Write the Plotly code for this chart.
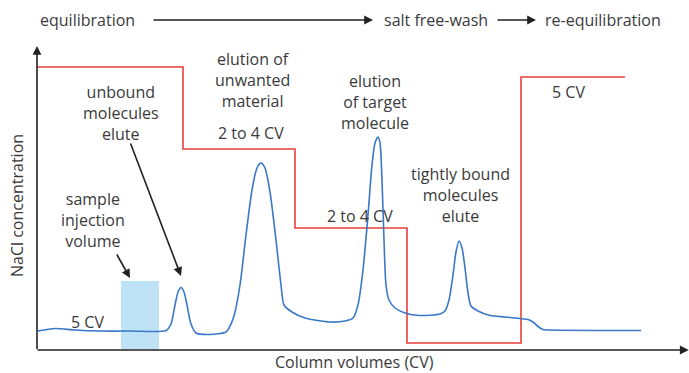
import plotly.graph_objects as go

# Units: x in arbitrary column-volume units, y in arbitrary NaCl units
# Chromatogram (UV trace) sampled along the run
trace_x = [0.1, 1.8, 3.8, 6.3, 9.3, 12.9, 13.4, 13.8, 14.1, 14.4, 14.7, 15.0, 15.4, 15.9,
           17.3, 18.9, 19.2, 19.7, 20.3, 20.9, 21.5, 22.0, 22.4, 22.8, 23.3, 23.9, 24.4,
           24.7, 25.5, 26.8, 29.3, 30.8, 31.6, 32.1, 32.6, 33.1, 33.5, 33.8, 34.1, 34.3,
           34.5, 34.7, 34.9, 35.2, 35.8, 36.8, 38.3, 40.3, 40.8, 41.2, 41.6, 41.9, 42.2,
           42.5, 42.8, 43.1, 43.4, 44.1, 45.3, 46.8, 48.3, 49.1, 49.6, 50.1, 50.6, 51.3, 60.4]
trace_y = [1.9, 2.15, 2.0, 1.9, 1.9, 1.95, 2.6, 4.5, 5.8, 6.25, 5.8, 4.5, 2.6, 1.7,
           1.55, 1.8, 2.2, 3.4, 6.5, 11.5, 16.0, 18.2, 18.7, 18.2, 15.8, 11.0, 6.5,
           4.5, 3.8, 3.2, 2.8, 2.9, 3.2, 4.5, 8.0, 13.5, 18.5, 20.7, 21.3, 20.7,
           17.0, 11.0, 6.5, 5.0, 4.2, 3.7, 3.45, 3.6, 3.9, 5.0, 7.5, 9.8, 10.9,
           10.2, 8.2, 5.7, 4.4, 3.9, 3.45, 3.3, 3.15, 3.05, 2.8, 2.35, 2.05, 2.0, 1.95]

# NaCl step gradient: start of each step and its level
step_x = [0.0, 14.6, 25.8, 37.0, 48.4, 58.8]
step_y = [28.3, 20.1, 12.2, 0.7, 27.3, 27.3]

# Sample injection window
inject_x = [8.4, 12.2]
inject_y = [0.1, 6.9]

TEXT = "#3a3a3a"
AXIS = "#222222"
FONT = dict(family="Open Sans", size=16, color=TEXT)

fig = go.Figure()

fig.add_shape(type="rect", xref="x", yref="y",
              x0=inject_x[0], x1=inject_x[1], y0=inject_y[0], y1=inject_y[1],
              fillcolor="#bfe3f6", line_width=0, layer="below")

fig.add_trace(go.Scatter(x=step_x, y=step_y, mode="lines",
                         line=dict(color="#e8403a", width=1.6, shape="hv"),
                         hoverinfo="skip", showlegend=False))
fig.add_trace(go.Scatter(x=trace_x, y=trace_y, mode="lines",
                         line=dict(color="#3a78c9", width=1.6, shape="spline", smoothing=0.7),
                         hoverinfo="skip", showlegend=False))


def arrow(x0, y0, x1, y1, width=1.6):
    fig.add_annotation(x=x1, y=y1, ax=x0, ay=y0, xref="x", yref="y", axref="x", ayref="y",
                       text="", showarrow=True, arrowhead=2, arrowsize=1.1,
                       arrowwidth=width, arrowcolor=AXIS)


def label(x, y, text, **kw):
    fig.add_annotation(x=x, y=y, xref="x", yref="y", text=text, showarrow=False,
                       font=FONT, align="center", **kw)


# Axes drawn as arrows
arrow(-0.1, 0.0, 65.17, 0.0)
arrow(0.0, -0.05, 0.0, 30.4)

# Phase sequence across the top
label(5.05, 33.0, "equilibration")
arrow(11.5, 33.0, 33.6, 33.0)
label(39.85, 33.0, "salt free-wash")
arrow(45.9, 33.0, 49.9, 33.0)
label(56.6, 33.0, "re-equilibration")

# Peak and step annotations
label(8.4, 23.75, "unbound<br>molecules<br>elute")
arrow(9.3, 20.8, 14.4, 7.4)
label(5.6, 13.05, "sample<br>injection<br>volume")
arrow(7.9, 9.7, 9.3, 7.2)
label(5.0, 2.83, "5 CV")
label(21.5, 27.0, "elution of<br>unwanted<br>material")
label(21.4, 21.7, "2 to 4 CV")
label(33.8, 24.8, "elution<br>of target<br>molecule")
label(32.3, 13.4, "2 to 4 CV")
label(42.3, 15.5, "tightly bound<br>molecules<br>elute")
label(53.1, 25.8, "5 CV")

# Axis titles
label(31.7, -1.15, "Column volumes (CV)")
label(-2.0, 14.4, "NaCl concentration", textangle=-90)

fig.update_layout(
    width=689, height=373,
    margin=dict(l=0, r=0, t=0, b=0),
    paper_bgcolor="white", plot_bgcolor="white",
    xaxis=dict(range=[-3.7, 65.2], visible=False, fixedrange=True),
    yaxis=dict(range=[-2.3, 35.0], visible=False, fixedrange=True),
    showlegend=False,
)

fig.write_html("out.html")
